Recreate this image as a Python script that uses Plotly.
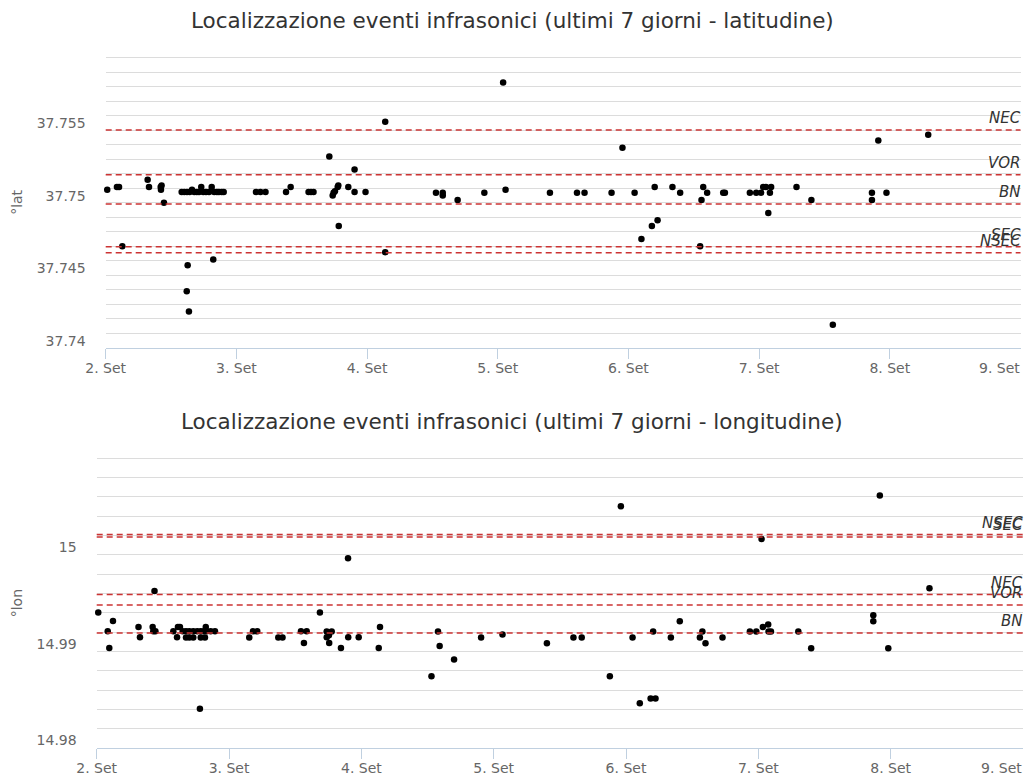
import pandas as pd
import plotly.graph_objects as go

# ---- data -----------------------------------------------------------------
lat_times = [
    "2023-09-02 00:17", "2023-09-02 02:04", "2023-09-02 02:27", "2023-09-02 03:03",
    "2023-09-02 07:42", "2023-09-02 07:57", "2023-09-02 10:06", "2023-09-02 10:16",
    "2023-09-02 10:09", "2023-09-02 10:42",
    "2023-09-02 13:57", "2023-09-02 14:26", "2023-09-02 14:56", "2023-09-02 15:25",
    "2023-09-02 15:51", "2023-09-02 16:16", "2023-09-02 16:43", "2023-09-02 17:08",
    "2023-09-02 17:33", "2023-09-02 17:55", "2023-09-02 18:25", "2023-09-02 18:58",
    "2023-09-02 19:28", "2023-09-02 19:56", "2023-09-02 20:26", "2023-09-02 20:48",
    "2023-09-02 21:18", "2023-09-02 21:40",
    "2023-09-02 15:03", "2023-09-02 14:53", "2023-09-02 15:17", "2023-09-02 19:45",
    "2023-09-03 03:36", "2023-09-03 04:25", "2023-09-03 05:21", "2023-09-03 09:07",
    "2023-09-03 09:58", "2023-09-03 13:15", "2023-09-03 13:42", "2023-09-03 14:10",
    "2023-09-03 17:04", "2023-09-03 17:41", "2023-09-03 17:51", "2023-09-03 18:06",
    "2023-09-03 18:36", "2023-09-03 18:43", "2023-09-03 18:48", "2023-09-03 20:33",
    "2023-09-03 21:42", "2023-09-03 21:42", "2023-09-03 23:43",
    "2023-09-04 03:20", "2023-09-04 03:20", "2023-09-04 12:39", "2023-09-04 13:54",
    "2023-09-04 13:54", "2023-09-04 16:38", "2023-09-04 21:32",
    "2023-09-05 00:59", "2023-09-05 01:26", "2023-09-05 09:35", "2023-09-05 14:33",
    "2023-09-05 15:56", "2023-09-05 20:54", "2023-09-05 22:54",
    "2023-09-06 01:08", "2023-09-06 02:23", "2023-09-06 04:18", "2023-09-06 05:21",
    "2023-09-06 04:49", "2023-09-06 08:05", "2023-09-06 09:30", "2023-09-06 13:10",
    "2023-09-06 13:25", "2023-09-06 13:44", "2023-09-06 14:27", "2023-09-06 17:24",
    "2023-09-06 17:43", "2023-09-06 22:18", "2023-09-06 23:28",
    "2023-09-07 00:22", "2023-09-07 00:45", "2023-09-07 01:15", "2023-09-07 02:12",
    "2023-09-07 01:59", "2023-09-07 01:41", "2023-09-07 06:52", "2023-09-07 09:36",
    "2023-09-07 13:32", "2023-09-07 20:43", "2023-09-07 20:43", "2023-09-07 21:53",
    "2023-09-07 23:23",
    "2023-09-08 07:03",
]
lat_values = [
    37.7504, 37.7506, 37.7506, 37.7465,
    37.7511, 37.7506, 37.7506, 37.7507,
    37.7504, 37.7495,
    37.75025, 37.75025, 37.75025, 37.75025,
    37.7504, 37.75025, 37.75025, 37.75025,
    37.7506, 37.75025, 37.75025, 37.75025,
    37.7506, 37.75025, 37.75025, 37.75025,
    37.75025, 37.75025,
    37.7452, 37.7434, 37.7420, 37.7456,
    37.75025, 37.75025, 37.75025, 37.75025,
    37.7506, 37.75025, 37.75025, 37.75025,
    37.7527, 37.7500, 37.7502, 37.7503,
    37.7506, 37.7507, 37.7479, 37.7506,
    37.7518, 37.75025, 37.75025,
    37.7551, 37.7461, 37.7502, 37.7502,
    37.7500, 37.7497, 37.7502,
    37.7578, 37.7504, 37.7502, 37.7502,
    37.7502, 37.7502, 37.7533,
    37.7502, 37.7470, 37.7479, 37.7483,
    37.7506, 37.7506, 37.7502, 37.7465,
    37.7497, 37.7506, 37.7502, 37.7502,
    37.7502, 37.7502, 37.7502,
    37.7502, 37.7506, 37.7506, 37.7506,
    37.7502, 37.7488, 37.7506, 37.7497,
    37.7411, 37.7502, 37.7497, 37.7538,
    37.7502,
    37.7542,
]

lon_times = [
    "2023-09-02 00:17", "2023-09-02 02:00", "2023-09-02 02:17", "2023-09-02 02:57",
    "2023-09-02 07:35", "2023-09-02 07:51", "2023-09-02 10:09", "2023-09-02 10:16",
    "2023-09-02 10:39", "2023-09-02 10:29", "2023-09-02 13:54", "2023-09-02 14:34",
    "2023-09-02 14:44", "2023-09-02 15:06",
    "2023-09-02 15:36", "2023-09-02 16:12", "2023-09-02 16:48", "2023-09-02 17:31",
    "2023-09-02 18:14", "2023-09-02 18:52", "2023-09-02 19:26", "2023-09-02 19:57",
    "2023-09-02 20:40", "2023-09-02 21:27",
    "2023-09-02 16:12", "2023-09-02 16:48", "2023-09-02 17:31", "2023-09-02 18:52",
    "2023-09-02 19:38", "2023-09-02 19:47", "2023-09-02 18:43",
    "2023-09-03 03:40", "2023-09-03 04:21", "2023-09-03 05:07", "2023-09-03 08:56",
    "2023-09-03 09:42", "2023-09-03 13:03", "2023-09-03 14:05", "2023-09-03 13:35",
    "2023-09-03 16:29", "2023-09-03 17:43", "2023-09-03 18:07", "2023-09-03 18:37",
    "2023-09-03 18:10", "2023-09-03 17:43", "2023-09-03 20:18", "2023-09-03 21:35",
    "2023-09-03 21:37", "2023-09-03 23:31",
    "2023-09-04 03:09", "2023-09-04 03:23", "2023-09-04 12:43", "2023-09-04 13:54",
    "2023-09-04 14:12", "2023-09-04 16:49", "2023-09-04 21:43",
    "2023-09-05 01:36", "2023-09-05 09:39", "2023-09-05 14:28", "2023-09-05 15:58",
    "2023-09-05 21:04", "2023-09-05 23:04",
    "2023-09-06 01:11", "2023-09-06 02:30", "2023-09-06 04:28", "2023-09-06 05:21",
    "2023-09-06 04:55", "2023-09-06 08:08", "2023-09-06 09:45", "2023-09-06 13:24",
    "2023-09-06 13:51", "2023-09-06 14:25", "2023-09-06 17:30", "2023-09-06 22:28",
    "2023-09-06 23:38",
    "2023-09-07 00:35", "2023-09-07 00:49", "2023-09-07 01:47", "2023-09-07 01:51",
    "2023-09-07 02:17", "2023-09-07 07:15", "2023-09-07 09:35", "2023-09-07 20:51",
    "2023-09-07 20:51", "2023-09-07 22:02", "2023-09-07 23:34",
    "2023-09-08 07:02",
]
lon_values = [
    14.99324, 14.99130, 14.98958, 14.99237,
    14.99175, 14.99068, 14.99175, 14.99130,
    14.99130, 14.99547, 14.99130, 14.99068,
    14.99175, 14.99175,
    14.99130, 14.99130, 14.99130, 14.99130,
    14.99130, 14.99130, 14.99130, 14.99130,
    14.99130, 14.99130,
    14.99065, 14.99065, 14.99065, 14.99065,
    14.99065, 14.99175, 14.98328,
    14.99065, 14.99130, 14.99130, 14.99065,
    14.99065, 14.99130, 14.99130, 14.99009,
    14.99324, 14.99127, 14.99089, 14.99127,
    14.99009, 14.99068, 14.98958, 14.99886,
    14.99068, 14.99068,
    14.98958, 14.99175, 14.98665, 14.99127,
    14.98978, 14.98838, 14.99065,
    14.99096, 14.99006, 14.99065, 14.99065,
    14.98665, 15.00424,
    14.99065, 14.98385, 14.98434, 14.98434,
    14.99127, 14.99065, 14.99234, 14.99065,
    14.99127, 14.99006, 14.99065, 14.99127,
    14.99127,
    15.00085, 14.99175, 14.99200, 14.99127,
    14.99127, 14.99127, 14.98954, 14.99296,
    14.99234, 15.00534, 14.98954,
    14.99575,
]

# vent reference positions
vent_names = ["NEC", "VOR", "BN", "SEC", "NSEC"]
vent_lat = [37.75452, 37.75144, 37.74942, 37.74648, 37.74606]
vent_lon = [14.99510, 14.99402, 14.99113, 15.00106, 15.00131]

day_ticks = list(pd.date_range("2023-09-02", "2023-09-09", freq="D"))
day_labels = ["2. Set", "3. Set", "4. Set", "5. Set", "6. Set", "7. Set", "8. Set", "9. Set"]

lat_ticks = [37.74, 37.745, 37.75, 37.755]
lat_tick_text = ["37.74", "37.745", "37.75", "37.755"]
lon_ticks = [14.98, 14.99, 15.0]
lon_tick_text = ["14.98", "14.99", "15"]

titles = [
    "Localizzazione eventi infrasonici (ultimi 7 giorni - latitudine)",
    "Localizzazione eventi infrasonici (ultimi 7 giorni - longitudine)",
]
axis_titles = ["°lat", "°lon"]

# ---- style ----------------------------------------------------------------
W, H = 1029, 780
FONT = "DejaVu Sans"
AXIS_COLOR = "#C0D0E0"
GRID_COLOR = "#DCDCDC"
LINE_RED = "#CC3333"
TICK_FONT = dict(family=FONT, size=14, color="#666666")


def px_x(p):
    return p / W


def px_y(p):
    return (H - p) / H


fig = go.Figure()

fig.add_trace(go.Scatter(
    x=pd.to_datetime(lat_times), y=lat_values, mode="markers",
    marker=dict(color="#000000", size=6.5), xaxis="x", yaxis="y",
    showlegend=False, cliponaxis=False,
))
fig.add_trace(go.Scatter(
    x=pd.to_datetime(lon_times), y=lon_values, mode="markers",
    marker=dict(color="#000000", size=6.5), xaxis="x2", yaxis="y2",
    showlegend=False, cliponaxis=False,
))

# the last day label sits flush with the right edge, so it is written separately
xcommon = dict(
    type="date", range=[day_ticks[0], day_ticks[-1]],
    tickmode="array", tickvals=day_ticks[:-1], ticktext=day_labels[:-1],
    ticks="outside", ticklen=10, tickcolor=AXIS_COLOR, tickwidth=1,
    ticklabelstandoff=-3,
    showline=True, linecolor=AXIS_COLOR, linewidth=1,
    showgrid=False, zeroline=False, automargin=False,
    tickfont=TICK_FONT,
)
ycommon = dict(
    tickmode="array", showgrid=False, zeroline=False, showline=False,
    ticks="", ticklabelstandoff=19, automargin=False,
    tickfont=TICK_FONT,
)

# the value ranges reach ~2 px past the top grid line so that line is kept
fig.update_layout(
    width=W, height=H,
    margin=dict(l=0, r=0, t=0, b=0, autoexpand=False),
    paper_bgcolor="white", plot_bgcolor="white",
    xaxis=dict(xcommon, domain=[px_x(105.7), px_x(1020.5)], anchor="y"),
    yaxis=dict(ycommon, domain=[px_y(347.85), px_y(55.85)], anchor="x",
               range=[37.7395, 37.759638],
               tickvals=lat_ticks, ticktext=lat_tick_text,
               minor=dict(tick0=37.7395, dtick=0.001, showgrid=True,
                          gridcolor=GRID_COLOR, gridwidth=1, ticks="")),
    xaxis2=dict(xcommon, domain=[px_x(96.7), px_x(1023.0)], anchor="y2"),
    yaxis2=dict(ycommon, domain=[px_y(748.3), px_y(456.3)], anchor="x2",
                range=[14.9792, 15.009407],
                tickvals=lon_ticks, ticktext=lon_tick_text,
                minor=dict(tick0=14.9792, dtick=0.002, showgrid=True,
                           gridcolor=GRID_COLOR, gridwidth=1, ticks="")),
)

# closing day label at the right end of each time axis
for xa, yc in (("x", 367.5), ("x2", 768)):
    fig.add_annotation(text=day_labels[-1], xref=f"{xa} domain", yref="paper",
                       x=1, y=px_y(yc), xanchor="right", yanchor="middle",
                       xshift=1, showarrow=False, font=TICK_FONT)

# vent reference lines and their labels
for xa, ya, vals in (("x", "y", vent_lat), ("x2", "y2", vent_lon)):
    for name, v in zip(vent_names, vals):
        fig.add_shape(type="line", xref=f"{xa} domain", yref=ya,
                      x0=0, x1=1, y0=v, y1=v,
                      line=dict(color=LINE_RED, width=1.5, dash="6px,4px"))
        fig.add_annotation(text=f"<i>{name}</i>", xref=f"{xa} domain", yref=ya,
                           x=1, y=v, xanchor="right", yanchor="bottom",
                           xshift=2, yshift=1, showarrow=False,
                           font=dict(family=FONT, size=15, color="#333333"))

# chart titles
for text, yc in zip(titles, (20, 421)):
    fig.add_annotation(text=text, xref="paper", yref="paper",
                       x=px_x(512), y=px_y(yc), xanchor="center", yanchor="middle",
                       showarrow=False,
                       font=dict(family=FONT, size=21.5, color="#333333"))

# y-axis titles
for text, yc in zip(axis_titles, (202.85, 603.3)):
    fig.add_annotation(text=text, xref="paper", yref="paper",
                       x=px_x(17), y=px_y(yc), xanchor="center", yanchor="middle",
                       textangle=-90, showarrow=False,
                       font=dict(family=FONT, size=14, color="#666666"))

fig.write_html("out.html")
